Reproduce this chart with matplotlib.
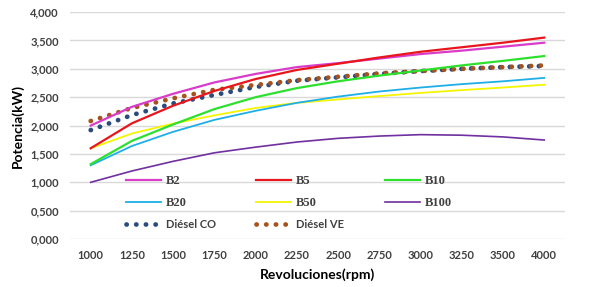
import matplotlib
matplotlib.use('Agg')
import matplotlib.pyplot as plt
from matplotlib.ticker import FuncFormatter

RPM = ['1000', '1250', '1500', '1750', '2000', '2250', '2500', '2750', '3000', '3250', '3500', '4000']

b2 = [2000, 2330, 2560, 2760, 2910, 3030, 3100, 3180, 3260, 3320, 3390, 3460]
b5 = [1600, 2040, 2350, 2610, 2820, 2980, 3090, 3200, 3300, 3380, 3460, 3550]
b10 = [1320, 1730, 2020, 2290, 2500, 2660, 2780, 2880, 2970, 3060, 3140, 3225]
b20 = [1300, 1640, 1890, 2100, 2260, 2400, 2510, 2600, 2670, 2730, 2780, 2840]
b50 = [1600, 1860, 2035, 2180, 2310, 2400, 2460, 2520, 2575, 2625, 2670, 2720]
b100 = [1000, 1200, 1370, 1520, 1620, 1710, 1775, 1815, 1840, 1830, 1800, 1745]
diesel_co = [1920, 2185, 2390, 2540, 2680, 2790, 2850, 2910, 2960, 3000, 3030, 3050]
diesel_ve = [2080, 2310, 2480, 2630, 2715, 2800, 2860, 2920, 2960, 3000, 3030, 3060]

plt.rcParams['font.family'] = ['Lato', 'DejaVu Sans']

fig = plt.figure(figsize=(5.94, 2.87), dpi=100)
ax = fig.add_axes([0.118, 0.167, 0.833, 0.791])

x = list(range(len(RPM)))
dots = dict(linestyle=(0, (0.05, 2.0)), dash_capstyle='round', lw=3.4)

l_co, = ax.plot(x, diesel_co, color='#2B4A7E', label='Diésel CO', **dots)
l_ve, = ax.plot(x, diesel_ve, color='#A5521C', label='Diésel VE', **dots)
l100, = ax.plot(x, b100, color='#7030A0', lw=1.2, label='B100')
l50, = ax.plot(x, b50, color='#F5F500', lw=1.3, label='B50')
l20, = ax.plot(x, b20, color='#1EAEE8', lw=1.3, label='B20')
l10, = ax.plot(x, b10, color='#2EE02E', lw=1.6, label='B10')
l2, = ax.plot(x, b2, color='#D83CC8', lw=1.6, label='B2')
l5, = ax.plot(x, b5, color='#E8161C', lw=1.6, label='B5')

ax.set_xlim(-0.5, len(RPM) - 0.5)
ax.set_ylim(0, 4000)
ax.set_yticks(range(0, 4001, 500))
ax.yaxis.set_major_formatter(FuncFormatter(lambda v, p: f'{v / 1000:.3f}'.replace('.', ',')))
ax.set_xticks(x)
ax.set_xticklabels(RPM)
ax.grid(axis='y', color='#D9D9D9', lw=1)
ax.set_axisbelow(True)
for s in ax.spines.values():
    s.set_visible(False)
ax.tick_params(length=0, labelsize=8, pad=8)
for t in ax.get_xticklabels() + ax.get_yticklabels():
    t.set_fontweight('bold')
    t.set_color('#404040')

ax.set_xlabel('Revoluciones(rpm)', fontsize=10, fontweight='bold', labelpad=5)
ax.set_ylabel('Potencia(kW)', fontsize=10, fontweight='bold', labelpad=5)

handles = [l2, l20, l_co, l5, l50, l_ve, l10, l100]
leg = ax.legend(handles=handles, labels=[h.get_label() for h in handles], ncol=3,
                loc='center left', bbox_to_anchor=(0.092, 0.163), frameon=False,
                fontsize=8, handlelength=3.15, columnspacing=3.65, labelspacing=0.9,
                handletextpad=0.45, borderpad=0.4)
for t in leg.get_texts():
    t.set_fontweight('bold')
    t.set_color('#404040')
    if t.get_text().startswith('B'):
        t.set_fontfamily('Liberation Serif')
        t.set_fontsize(9)

fig.savefig('out.png', dpi=100)
